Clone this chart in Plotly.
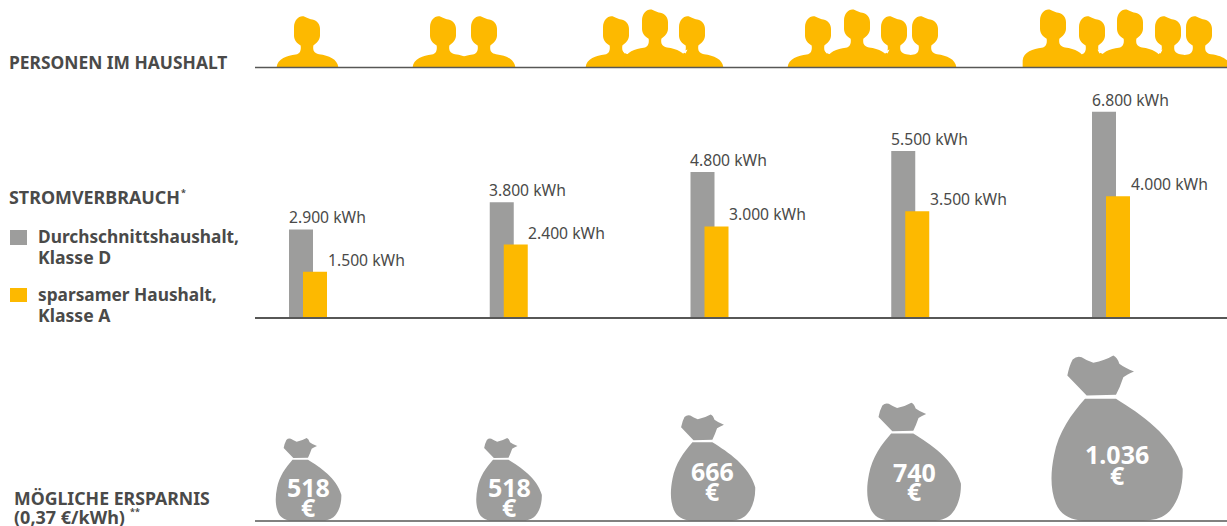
import plotly.graph_objects as go

households = ["1 Person", "2 Personen", "3 Personen", "4 Personen", "5 Personen"]
average_kwh = [2900, 3800, 4800, 5500, 6800]
frugal_kwh = [1500, 2400, 3000, 3500, 4000]
average_labels = ["2.900 kWh", "3.800 kWh", "4.800 kWh", "5.500 kWh", "6.800 kWh"]
frugal_labels = ["1.500 kWh", "2.400 kWh", "3.000 kWh", "3.500 kWh", "4.000 kWh"]
savings = [518, 518, 666, 740, 1036]
savings_labels = ["518", "518", "666", "740", "1.036"]

W, H = 1227, 526
GOLD = "#fdb900"
GREY = "#9d9d9c"
INK = "#4a4a49"
LINE = "#575756"
SANS = "Noto Sans"

PERSON = [("M", (78, 200)), ("C", (80, 175), (110, 165), (135, 162)), ("C", (148, 160), (152, 150), (150, 135)),
          ("C", (138, 128), (130, 118), (130, 105)), ("L", (130, 80)), ("C", (130, 60), (143, 47), (155, 47)),
          ("C", (165, 47), (172, 55), (185, 57)), ("C", (200, 60), (208, 72), (208, 85)), ("L", (208, 105)),
          ("C", (208, 118), (198, 128), (188, 135)), ("C", (186, 150), (190, 158), (205, 161)),
          ("C", (235, 165), (260, 175), (263, 200))]
BAG_BODY = [("M", (165, 160)), ("L", (258, 160)), ("C", (330, 205), (430, 270), (458, 370)),
            ("C", (460, 430), (440, 480), (410, 505)), ("C", (390, 520), (370, 525), (340, 525)), ("L", (160, 525)),
            ("C", (120, 525), (90, 505), (78, 475)), ("C", (60, 430), (62, 380), (72, 330)),
            ("C", (85, 260), (125, 205), (165, 160))]
BAG_HEAD = [("M", (170, 150)), ("L", (112, 90)), ("Q", (118, 60), (128, 42)), ("Q", (140, 30), (155, 35)),
            ("Q", (170, 45), (190, 52)), ("Q", (225, 45), (250, 30)), ("Q", (262, 35), (268, 55)),
            ("Q", (285, 68), (312, 78)), ("Q", (290, 88), (280, 95)), ("Q", (270, 125), (258, 148))]


def to_path(cmds, fx, fy):
    out = []
    for c in cmds:
        pts = " ".join(f"{fx(x) / W:.5f},{1 - fy(y) / H:.5f}" for x, y in c[1:])
        out.append(f"{c[0]} {pts}")
    return " ".join(out) + " Z"


def paper_shape(path, color):
    return dict(type="path", xref="paper", yref="paper", path=path, fillcolor=color, line=dict(width=0), layer="above")


shapes = []
# people: (head centre px, tall?) per household
rows = [[(307, 0)], [(443, 0), (484, 0)], [(616, 0), (692, 0), (655, 1)], [(818, 0), (894, 0), (925, 0), (857, 1)],
        [(1092, 0), (1168, 0), (1199, 0), (1053, 1), (1130, 1)]]
# which sides of each tall figure show a small notch against its neighbour
notches = [(655, -1), (655, 1), (857, -1), (857, 1), (1053, 1), (1130, -1), (1130, 1)]
for row in rows:
    for cx, tall in row:
        lift = 20 if tall else 0
        path = to_path(PERSON, lambda x: cx + (x - 169) / 3, lambda y: (y - lift) / 3 + 0.5)
        if tall:
            path = path[:-2] + f" L {(cx + 94 / 3) / W:.5f},{1 - 67 / H:.5f} L {(cx - 91 / 3) / W:.5f},{1 - 67 / H:.5f} Z"
        shapes.append(paper_shape(path, GOLD))
for cx, side in notches:
    a, b, c = (cx + side * 32.5, 49.5), (cx + side * 27.5, 51.5), (cx + side * 30.5, 53.5)
    shapes.append(paper_shape(
        f"M {a[0] / W:.5f},{1 - a[1] / H:.5f} L {b[0] / W:.5f},{1 - b[1] / H:.5f} L {c[0] / W:.5f},{1 - c[1] / H:.5f} Z", "white"))

# money bags scale with the saving
bag_centres = [308.5, 509, 713, 914, 1117]
for cx, val in zip(bag_centres, savings):
    s = val / 1036 / 3
    for cmds in (BAG_BODY, BAG_HEAD):
        shapes.append(paper_shape(to_path(cmds, lambda x: cx + (x - 261) * s, lambda y: 520.5 + (y - 525) * s), GREY))

# rules
for y, x0 in [(67.5, 255), (521, 255)]:
    shapes.append(dict(type="line", xref="paper", yref="paper", x0=x0 / W, x1=1, y0=1 - y / H, y1=1 - y / H,
                       line=dict(color=LINE, width=1.6), layer="above"))
# legend keys
for y0, y1, col in [(230, 245, GREY), (288, 302, GOLD)]:
    shapes.append(dict(type="rect", xref="paper", yref="paper", x0=10 / W, x1=27 / W, y0=1 - y0 / H, y1=1 - y1 / H,
                       fillcolor=col, line=dict(width=0)))

BAR_STEP = 200.75
bw = 24 / BAR_STEP

fig = go.Figure()
fig.add_bar(x=list(range(5)), y=average_kwh, name="Durchschnittshaushalt, Klasse D", marker=dict(color=GREY, line=dict(width=0)),
            width=bw, offset=-19 / BAR_STEP, hoverinfo="skip")
fig.add_bar(x=list(range(5)), y=frugal_kwh, name="sparsamer Haushalt, Klasse A", marker=dict(color=GOLD, line=dict(width=0)),
            width=bw, offset=-5 / BAR_STEP, hoverinfo="skip")

ann = []
for i in range(5):
    ann.append(dict(x=i, y=average_kwh[i], xref="x", yref="y", text=average_labels[i], showarrow=False, xanchor="left",
                    yanchor="middle", xshift=-21.5, yshift=12, font=dict(family=SANS, size=15.7, color=INK)))
    ann.append(dict(x=i, y=frugal_kwh[i], xref="x", yref="y", text=frugal_labels[i], showarrow=False, xanchor="left",
                    yanchor="middle", xshift=17.5, yshift=12, font=dict(family=SANS, size=15.7, color=INK)))


def txt(x, y, text, size=17.3, color=INK, bold=True, anchor="left"):
    ann.append(dict(x=x / W, y=1 - y / H, xref="paper", yref="paper", text=f"<b>{text}</b>" if bold else text, showarrow=False,
                    xanchor=anchor, yanchor="middle", font=dict(family=SANS, size=size, color=color)))


txt(7, 62, "PERSONEN IM HAUSHALT", size=17.4)
txt(7, 197, "STROMVERBRAUCH", size=17.9)
txt(179, 192, "*", size=9)
txt(36, 236, "Durchschnittshaushalt,")
txt(36, 257, "Klasse D", size=17.6)
txt(36, 294, "sparsamer Haushalt,")
txt(36, 315, "Klasse A", size=17.6)
txt(12, 498, "MÖGLICHE ERSPARNIS", size=17.7)
txt(12, 517, "(0,37 €/kWh)", size=18)
txt(128, 511, "**", size=9)

label_pos = [(308.5, 487, 507), (509, 487, 507), (712, 471, 491), (914, 471.5, 491), (1117, 454, 475)]
for (x, y1, y2), lab in zip(label_pos, savings_labels):
    txt(x, y1, lab, size=25, color="white", anchor="center")
    txt(x, y2, "€", size=25, color="white", anchor="center")

fig.update_layout(
    width=W, height=H, autosize=False, margin=dict(l=0, r=0, t=0, b=0), paper_bgcolor="white", plot_bgcolor="rgba(0,0,0,0)",
    barmode="overlay", showlegend=False, shapes=shapes, annotations=ann,
    xaxis=dict(domain=[255 / W, 1], range=[(255 - 308) / BAR_STEP, (W - 308) / BAR_STEP], showgrid=False, zeroline=False,
               showline=True, linecolor=LINE, linewidth=1.6, tickvals=[], fixedrange=True),
    yaxis=dict(domain=[1 - 317 / H, 1 - 85 / H], range=[0, (317 - 85) / 0.0302], visible=False, fixedrange=True),
)
fig.write_html("out.html", post_script="document.body.style.margin='0';", config={"displayModeBar": False})
